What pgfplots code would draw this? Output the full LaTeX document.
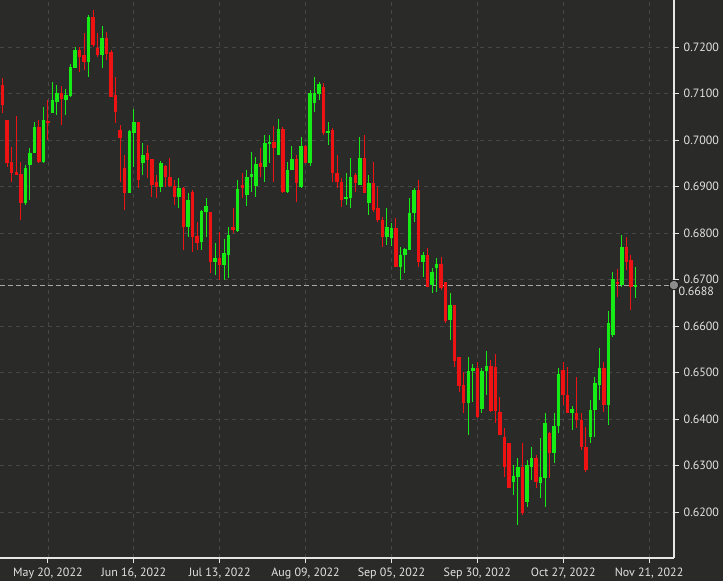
\documentclass[border=0pt]{standalone}
\usepackage{pgfplots}
\pgfplotsset{compat=1.18}
\usepackage{pgfplotstable}
\usepackage{fontspec}
\setmainfont{PT Sans}
\usetikzlibrary{backgrounds}

\definecolor{bgc}{HTML}{2A2B29}
\definecolor{gridc}{HTML}{474846}
\definecolor{axc}{HTML}{E6E6E6}
\definecolor{labc}{HTML}{E2E2E2}
\definecolor{upc}{RGB}{22,235,22}
\definecolor{dnc}{RGB}{238,18,18}
\definecolor{refc}{HTML}{A8A8A8}
\definecolor{dotc}{HTML}{8C8C8C}

% bar index, open, high, low, close
\pgfplotstableread{
i o h l c
5 0.6865 0.6946 0.6860 0.6940
6 0.6946 0.6983 0.6871 0.6972
7 0.6972 0.7039 0.6972 0.7028
9 0.6953 0.7071 0.6951 0.7043
11 0.7058 0.7125 0.7058 0.7086
12 0.7082 0.7118 0.7054 0.7101
14 0.7086 0.7110 0.7054 0.7097
15 0.7095 0.7164 0.7093 0.7157
16 0.7155 0.7200 0.7155 0.7194
19 0.7168 0.7269 0.7136 0.7265
22 0.7183 0.7245 0.7155 0.7219
28 0.6886 0.7022 0.6886 0.7019
29 0.7015 0.7067 0.6942 0.7039
31 0.6951 0.6994 0.6925 0.6968
35 0.6899 0.6955 0.6888 0.6951
39 0.6877 0.6918 0.6854 0.6897
41 0.6813 0.6886 0.6791 0.6871
44 0.6781 0.6850 0.6764 0.6847
45 0.6845 0.6875 0.6791 0.6858
47 0.6738 0.6778 0.6710 0.6746
49 0.6731 0.6787 0.6699 0.6757
50 0.6753 0.6813 0.6703 0.6796
52 0.6804 0.6914 0.6802 0.6895
54 0.6882 0.6936 0.6858 0.6920
55 0.6920 0.6974 0.6888 0.6927
56 0.6901 0.6964 0.6877 0.6948
58 0.6942 0.7011 0.6910 0.6994
59 0.6991 0.7011 0.6951 0.6996
61 0.6968 0.7045 0.6968 0.7024
63 0.6888 0.6953 0.6886 0.6936
64 0.6936 0.6987 0.6936 0.6959
66 0.6899 0.7007 0.6897 0.6987
68 0.6951 0.7108 0.6944 0.7101
69 0.7080 0.7136 0.7060 0.7101
70 0.7099 0.7125 0.7086 0.7120
72 0.7015 0.7039 0.6989 0.7019
76 0.6875 0.6929 0.6860 0.6877
77 0.6875 0.6961 0.6854 0.6920
79 0.6903 0.7007 0.6903 0.6961
81 0.6865 0.6925 0.6839 0.6908
85 0.6791 0.6854 0.6774 0.6813
86 0.6789 0.6822 0.6772 0.6811
88 0.6727 0.6770 0.6699 0.6753
89 0.6753 0.6768 0.6714 0.6766
90 0.6764 0.6875 0.6764 0.6843
91 0.6843 0.6897 0.6824 0.6892
93 0.6738 0.6759 0.6705 0.6753
95 0.6688 0.6725 0.6671 0.6716
96 0.6725 0.6746 0.6673 0.6733
99 0.6613 0.6671 0.6570 0.6645
103 0.6434 0.6533 0.6366 0.6503
104 0.6503 0.6518 0.6436 0.6510
106 0.6421 0.6510 0.6413 0.6503
107 0.6503 0.6546 0.6452 0.6514
113 0.6265 0.6301 0.6237 0.6278
114 0.6275 0.6316 0.6172 0.6297
116 0.6222 0.6312 0.6211 0.6301
117 0.6297 0.6340 0.6269 0.6316
119 0.6262 0.6359 0.6230 0.6275
120 0.6273 0.6413 0.6211 0.6391
122 0.6327 0.6413 0.6305 0.6385
123 0.6385 0.6510 0.6370 0.6497
126 0.6412 0.6428 0.6376 0.6421
130 0.6361 0.6441 0.6348 0.6419
131 0.6419 0.6490 0.6361 0.6478
132 0.6473 0.6553 0.6441 0.6510
134 0.6430 0.6632 0.6387 0.6607
135 0.6581 0.6716 0.6577 0.6701
137 0.6688 0.6796 0.6684 0.6770
140 0.6684 0.6727 0.6660 0.6688
}\up

\pgfplotstableread{
i o h l c
0 0.7118 0.7133 0.7058 0.7075
1 0.7043 0.7043 0.6942 0.6951
2 0.6953 0.6985 0.6910 0.6929
3 0.6931 0.7052 0.6925 0.6925
4 0.6927 0.6953 0.6828 0.6865
8 0.7028 0.7043 0.6951 0.6953
10 0.7041 0.7086 0.7000 0.7037
13 0.7101 0.7116 0.7032 0.7088
17 0.7194 0.7200 0.7146 0.7179
18 0.7183 0.7230 0.7151 0.7168
20 0.7265 0.7280 0.7200 0.7204
21 0.7198 0.7230 0.7179 0.7183
23 0.7219 0.7232 0.7172 0.7185
24 0.7189 0.7194 0.7093 0.7093
25 0.7097 0.7136 0.7037 0.7060
26 0.7022 0.7032 0.6910 0.7004
27 0.6940 0.6968 0.6850 0.6886
30 0.7039 0.7039 0.6897 0.6914
32 0.6972 0.6989 0.6918 0.6957
33 0.6959 0.6959 0.6877 0.6903
34 0.6910 0.6925 0.6875 0.6899
36 0.6944 0.6946 0.6899 0.6920
37 0.6920 0.6961 0.6899 0.6901
38 0.6901 0.6914 0.6860 0.6877
40 0.6897 0.6899 0.6764 0.6813
42 0.6888 0.6892 0.6759 0.6791
43 0.6794 0.6824 0.6764 0.6779
46 0.6845 0.6845 0.6714 0.6738
48 0.6746 0.6802 0.6699 0.6731
51 0.6813 0.6854 0.6800 0.6807
53 0.6903 0.6929 0.6875 0.6897
57 0.6951 0.6983 0.6920 0.6942
60 0.6996 0.7030 0.6910 0.6983
62 0.7024 0.7028 0.6886 0.6888
65 0.6959 0.6968 0.6867 0.6908
67 0.6987 0.6989 0.6951 0.6951
71 0.7114 0.7123 0.7011 0.7015
73 0.7022 0.7026 0.6910 0.6929
74 0.6929 0.6968 0.6897 0.6910
75 0.6910 0.6918 0.6856 0.6871
78 0.6925 0.6929 0.6888 0.6908
80 0.6961 0.7011 0.6886 0.6886
82 0.6908 0.6953 0.6845 0.6850
83 0.6854 0.6899 0.6824 0.6828
84 0.6828 0.6834 0.6770 0.6791
87 0.6811 0.6832 0.6727 0.6727
92 0.6892 0.6914 0.6727 0.6738
94 0.6753 0.6768 0.6684 0.6684
97 0.6733 0.6748 0.6677 0.6682
98 0.6695 0.6695 0.6606 0.6611
100 0.6645 0.6645 0.6512 0.6525
101 0.6533 0.6533 0.6458 0.6471
102 0.6473 0.6501 0.6413 0.6434
105 0.6510 0.6523 0.6402 0.6404
108 0.6514 0.6527 0.6415 0.6417
109 0.6512 0.6540 0.6391 0.6417
110 0.6415 0.6447 0.6366 0.6366
111 0.6361 0.6381 0.6275 0.6297
112 0.6348 0.6348 0.6252 0.6252
115 0.6297 0.6348 0.6194 0.6198
118 0.6316 0.6323 0.6252 0.6265
121 0.6370 0.6372 0.6273 0.6327
124 0.6505 0.6523 0.6430 0.6452
125 0.6452 0.6512 0.6413 0.6413
127 0.6413 0.6490 0.6381 0.6398
128 0.6398 0.6413 0.6333 0.6340
129 0.6340 0.6383 0.6286 0.6291
133 0.6510 0.6523 0.6415 0.6430
136 0.6695 0.6723 0.6662 0.6692
138 0.6770 0.6791 0.6720 0.6738
139 0.6742 0.6753 0.6634 0.6684
}\down

\begin{document}
\begin{tikzpicture}[show background rectangle, inner frame sep=0pt,
    background rectangle/.style={fill=bgc, draw=none}]
\useasboundingbox (0,0) rectangle (542.25pt,-435.75pt);
\begin{axis}[
    at={(0,0)}, anchor=north west,
    scale only axis, width=505.5pt, height=418.5pt,
    xmin=-0.6, xmax=148.52, ymin=0.61011, ymax=0.73011,
    axis x line*=bottom, axis y line*=right,
    axis line style={draw=axc, line width=0.9pt},
    tick align=outside, major tick length=3.75pt,
    tick style={draw=axc, line width=0.75pt},
    grid=major,
    major grid style={draw=gridc, dash pattern=on 3pt off 3pt, line width=0.6pt},
    xtick={10,29,48,67,86,105,124,143},
    xticklabels={{May 20, 2022},{Jun 16, 2022},{Jul 13, 2022},{Aug 09, 2022},
                 {Sep 05, 2022},{Sep 30, 2022},{Oct 27, 2022},{Nov 21, 2022}},
    ytick={0.62,0.63,0.64,0.65,0.66,0.67,0.68,0.69,0.70,0.71,0.72},
    scaled y ticks=false,
    /pgf/number format/assume math mode=true,
    yticklabel style={/pgf/number format/fixed, /pgf/number format/fixed zerofill,
                      /pgf/number format/precision=4},
    tick label style={font=\fontsize{9}{10}\selectfont, text=labc},
    extra y ticks={0.6688},
    extra y tick labels={0.6688},
    extra y tick style={
        major grid style={draw=refc, dash pattern=on 3.5pt off 2.5pt, line width=0.7pt},
        major tick length=0pt,
        yticklabel style={/tikz/yshift=-4.5pt}},
]
% wicks
\addplot[draw=none, mark=none, forget plot,
    error bars/.cd, y dir=both, y explicit, error mark=none,
    error bar style={draw=upc, line width=0.75pt}]
    table[x=i, y expr={(\thisrow{h}+\thisrow{l})/2},
          y error expr={(\thisrow{h}-\thisrow{l})/2}] {\up};
\addplot[draw=none, mark=none, forget plot,
    error bars/.cd, y dir=both, y explicit, error mark=none,
    error bar style={draw=dnc, line width=0.75pt}]
    table[x=i, y expr={(\thisrow{h}+\thisrow{l})/2},
          y error expr={(\thisrow{h}-\thisrow{l})/2}] {\down};
% bodies
\addplot[draw=none, mark=none, forget plot,
    error bars/.cd, y dir=both, y explicit, error mark=none,
    error bar style={draw=upc, line width=2.6pt}]
    table[x=i, y expr={(\thisrow{o}+\thisrow{c})/2},
          y error expr={(\thisrow{c}-\thisrow{o})/2}] {\up};
\addplot[draw=none, mark=none, forget plot,
    error bars/.cd, y dir=both, y explicit, error mark=none,
    error bar style={draw=dnc, line width=2.6pt}]
    table[x=i, y expr={(\thisrow{o}+\thisrow{c})/2},
          y error expr={(\thisrow{o}-\thisrow{c})/2}] {\down};
% last price marker
\addplot[only marks, mark=*, mark size=3.6pt, mark options={fill=dotc, draw=none}]
    coordinates {(148.5,0.6688)};
\end{axis}
\end{tikzpicture}
\end{document}
